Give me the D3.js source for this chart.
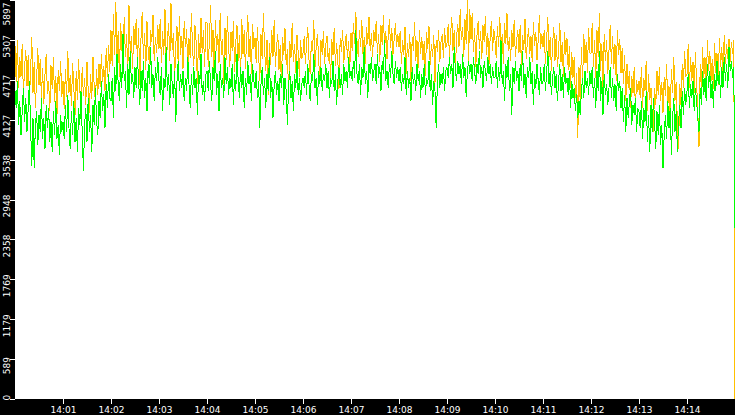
<!DOCTYPE html>
<html>
<head>
<meta charset="utf-8">
<script src="https://cdn.jsdelivr.net/npm/d3@7"></script>
<style>
  html, body { margin: 0; padding: 0; background: #000; }
  svg { display: block; }
  .axis text { fill: #fff; font-family: "DejaVu Sans", sans-serif; font-size: 9px; }
  .axis line { stroke: #fff; }
  .axis path { display: none; }
</style>
</head>
<body>
<script>
"use strict";

// sampling: one value every 1.5 seconds from 14:00:00, last sample at 14:15:00
const startTime = new Date(2020, 0, 1, 14, 0, 0);
const endTime = new Date(2020, 0, 1, 14, 15, 0);
const sampleSeconds = 1.5;

const yMax = 5897;
const yTicks = [0, 589, 1179, 1769, 2358, 2948, 3538, 4127, 4717, 5307, 5897];
const xTickLabels = ['14:01', '14:02', '14:03', '14:04', '14:05', '14:06', '14:07',
  '14:08', '14:09', '14:10', '14:11', '14:12', '14:13', '14:14'];

// yellow series, two rows per minute
const yellowValues = [
  5220, 4680, 5310, 4590, 5050, 4760, 5240, 4480, 4910, 5160, 4620, 5080, 4420, 4850, 5350, 4530, 4980, 4300, 4720, 5180,
  4640, 5020, 4450, 4890, 4360, 4800, 5100, 4510, 4700, 4250, 4930, 4580, 5060, 4390, 4770, 4200, 4860, 4550, 4990, 4470,
  4700, 4280, 4880, 4460, 5150, 4530, 4790, 4330, 4960, 4610, 4180, 4840, 4420, 5020, 4570, 4290, 4900, 4480, 4750, 4350,
  4980, 4560, 4230, 4810, 4440, 5060, 4620, 4380, 4870, 4500, 4950, 4610, 5100, 4680, 4920, 4550, 5180, 4760, 5230, 4840,
  5450, 4920, 5690, 5080, 5870, 5010, 5440, 4760, 5560, 5190, 4930, 5640, 5060, 5390, 4810, 5820, 5140, 5360, 4880, 5510,
  5230, 5620, 4970, 5480, 4640, 5330, 5720, 5020, 5410, 4870, 5580, 5140, 4950, 5460, 5270, 5680, 4990, 5350, 5110, 5530,
  5180, 5610, 4960, 5440, 5090, 5760, 4840, 5310, 5560, 4990, 5850, 5160, 5410, 4710, 5240, 5510, 4940, 5660, 5090, 5370,
  4880, 5590, 5200, 5470, 4790, 5330, 5040, 5700, 5150, 4920, 5520, 5260, 4650, 5400, 5010, 5630, 5120, 5450, 4900, 5560,
  5560, 4910, 5290, 5820, 5060, 5460, 4760, 5600, 5140, 5390, 4960, 5710, 5090, 5320, 4660, 5490, 5010, 5660, 5200, 4900,
  5430, 5150, 5580, 4830, 5270, 5520, 4990, 5380, 4720, 5620, 5100, 5450, 4880, 5300, 5680, 5050, 5370, 4800, 5540, 5180,
  5340, 4960, 5500, 5110, 4700, 5390, 5020, 5700, 5160, 4850, 5310, 4500, 5260, 4940, 5450, 5060, 5600, 4910, 5210, 5400,
  4870, 5230, 4640, 5350, 5080, 5480, 4930, 5170, 4450, 5290, 5040, 5550, 4980, 5250, 4820, 5380, 5120, 4760, 5300, 5020,
  5110, 5360, 4950, 5260, 5500, 5010, 4800, 5290, 5150, 5600, 4900, 5210, 5400, 5050, 4660, 5300, 5090, 5440, 4950, 5240,
  5370, 4990, 5180, 4730, 5320, 5080, 5480, 4920, 5260, 5020, 4580, 5340, 5130, 5460, 4970, 5220, 5390, 5040, 5290, 4880,
  5410, 5140, 5560, 5250, 5720, 5300, 5060, 5450, 5200, 5600, 5100, 5350, 4950, 5500, 5240, 5650, 5150, 5410, 5060, 5460,
  5290, 5580, 5120, 5390, 4980, 5520, 5230, 5670, 5170, 5440, 5020, 5360, 5610, 5190, 5480, 5090, 5330, 5550, 5210, 5400,
  5200, 5440, 4950, 5310, 5090, 5500, 4800, 5260, 5050, 5400, 4700, 5350, 5150, 5570, 5000, 5300, 4890, 5450, 5100, 5350,
  5010, 5290, 4780, 5420, 5180, 5510, 4930, 5240, 5060, 5380, 4670, 5310, 5130, 5460, 4980, 5270, 5390, 5040, 5480, 5190,
  5260, 5540, 5060, 5390, 5650, 5150, 5450, 4850, 5360, 5540, 5210, 5760, 5300, 5500, 5050, 5610, 5250, 5890, 5000, 5760,
  5320, 5700, 5130, 5480, 4900, 5380, 5590, 5180, 5440, 5020, 5520, 5270, 5660, 5090, 5410, 4950, 5350, 5580, 5140, 5470,
  5300, 5040, 5510, 5200, 5650, 5090, 5400, 4950, 5550, 5250, 5700, 5150, 5350, 5000, 5450, 5200, 5600, 5050, 5300, 5450,
  5120, 5530, 4920, 5380, 5160, 5620, 5030, 5290, 5480, 5100, 5360, 4980, 5570, 5220, 5430, 5010, 5310, 5680, 5170, 5400,
  5200, 5450, 4950, 5300, 5650, 5050, 5350, 4850, 5250, 5500, 5000, 5380, 4900, 5150, 5560, 4980, 5270, 4760, 5420, 5090,
  5330, 4870, 5210, 4600, 5130, 4750, 5050, 4450, 4820, 3860, 4900, 4380, 5200, 4700, 5400, 4960, 5280, 4820, 5480, 5120,
  5100, 5550, 4900, 5300, 4750, 5450, 5050, 5700, 4850, 5250, 4600, 5400, 5000, 5300, 4800, 5150, 5520, 4950, 5370, 4880,
  5240, 4700, 5460, 5080, 5320, 4820, 5190, 4650, 5080, 4400, 4950, 4600, 4850, 4300, 4780, 4520, 4910, 4270, 4720, 4540,
  4700, 4450, 4900, 4300, 4750, 4550, 5000, 4250, 4800, 4420, 4600, 4150, 3950, 4600, 4350, 4850, 4500, 4900, 4400, 4680,
  4230, 4760, 4480, 4950, 4320, 4620, 4180, 4870, 4530, 5050, 4410, 4690, 4060, 3700, 4650, 4340, 4950, 4600, 5150, 4780,
  4800, 5250, 4600, 5050, 4700, 4980, 4520, 5130, 4660, 4250, 3720, 4950, 4550, 5200, 4750, 5050, 4500, 5300, 4850, 5150,
  4700, 5020, 4580, 5260, 4820, 5110, 4640, 5340, 4900, 5200, 4760, 5380, 4950, 5250, 5020, 5320, 4980, 5280, 5100, 5300,
  0
];

// green series, two rows per minute
const greenValues = [
  4550, 4300, 4700, 4050, 4400, 3900, 4250, 4600, 4100, 4450, 3950, 4300, 4700, 4000, 3450, 4150, 3420, 4050, 4250, 3750,
  4200, 3950, 4450, 3850, 4150, 3700, 4350, 4000, 4300, 3800, 4100, 3650, 4250, 3900, 4400, 3850, 4050, 3600, 4200, 3950,
  4100, 3850, 4350, 3950, 4500, 4000, 3700, 4250, 3900, 4400, 3800, 4150, 3650, 4300, 4050, 4550, 3950, 3370, 4050, 4300,
  3800, 4450, 3950, 4200, 3650, 4350, 4050, 4600, 4100, 3900, 4400, 4150, 4700, 4250, 4500, 4000, 4650, 4300, 4800, 4450,
  4400, 4750, 4150, 4900, 4550, 5100, 4650, 4400, 4950, 4600, 5400, 4700, 4850, 4300, 4950, 4500, 5150, 4650, 4800, 4450,
  4900, 4600, 5050, 4700, 4350, 4850, 4550, 5000, 4450, 4750, 4250, 4950, 4650, 5200, 4600, 4800, 4400, 4900, 4700, 5050,
  4700, 4500, 4900, 4250, 4750, 4600, 5200, 4550, 4800, 4350, 4950, 4650, 4450, 4850, 4100, 4700, 5000, 4550, 4800, 4600,
  4850, 4400, 4750, 4550, 5050, 4650, 4300, 4800, 4500, 4900, 4600, 4750, 4200, 4850, 4650, 5100, 4500, 4700, 4400, 4800,
  4850, 4550, 5000, 4650, 4400, 4900, 4700, 5150, 4500, 4800, 4250, 4950, 4600, 4750, 4450, 5050, 4650, 4900, 4500, 4750,
  4600, 4950, 4350, 4800, 4550, 5100, 4700, 4450, 4900, 4600, 4850, 4300, 4750, 4500, 5000, 4650, 4800, 4400, 4950, 4700,
  4600, 4850, 4450, 4700, 4000, 4650, 4900, 4500, 4750, 4300, 4800, 4550, 5050, 4450, 4700, 4150, 4650, 4850, 4500, 4700,
  4400, 4800, 4600, 4950, 4350, 4750, 4550, 4050, 4650, 4850, 4450, 4700, 4250, 4800, 4600, 5000, 4500, 4750, 4400, 4650,
  4750, 4600, 4850, 4500, 4950, 4650, 4400, 4800, 4700, 5100, 4600, 4750, 4350, 4850, 4650, 4900, 4550, 4800, 4700, 4950,
  4600, 4850, 4450, 4750, 4650, 5000, 4550, 4800, 4350, 4700, 4900, 4600, 4800, 4500, 4950, 4700, 4850, 4600, 5050, 4750,
  4850, 4700, 5000, 4750, 5450, 4800, 4650, 4950, 4500, 4900, 4750, 5200, 4650, 4850, 4450, 4950, 4800, 5050, 4700, 4850,
  4950, 4650, 5100, 4750, 4900, 4550, 5000, 4800, 5300, 4700, 4850, 4600, 4950, 4750, 5150, 4800, 4650, 5000, 4750, 4900,
  4700, 4900, 4550, 4800, 4650, 5050, 4500, 4850, 4600, 4750, 4400, 4900, 4650, 4800, 4550, 4950, 4700, 4850, 4450, 4800,
  4600, 4950, 4500, 4750, 4650, 5000, 4550, 4800, 4350, 4700, 4550, 4000, 4700, 4950, 4600, 4800, 4650, 4900, 4550, 4850,
  4900, 4750, 5050, 4800, 4950, 4600, 5200, 4850, 4700, 5000, 4800, 4950, 4650, 5100, 4750, 4900, 4460, 4850, 5000, 4800,
  4950, 4700, 5050, 4850, 4650, 4950, 4800, 5150, 4750, 4900, 4600, 5000, 4850, 4700, 5050, 4800, 4950, 4650, 4900, 4750,
  4750, 5000, 4600, 4900, 4700, 5300, 4650, 4850, 4400, 4950, 4750, 5050, 4550, 4800, 4200, 4900, 4650, 5000, 4700, 4850,
  4550, 4950, 4700, 5150, 4600, 4800, 4450, 4900, 4750, 5050, 4650, 4850, 4350, 4800, 4600, 4950, 4700, 4500, 4900, 4650,
  4700, 4950, 4550, 4800, 5150, 4650, 4850, 4500, 4750, 4900, 4600, 4800, 4400, 4700, 4950, 4550, 4800, 4450, 4900, 4650,
  4750, 4500, 4850, 4300, 4700, 4450, 4600, 4250, 4500, 4150, 4400, 4200, 4550, 4750, 4450, 4850, 4600, 4750, 4500, 4850,
  4650, 4900, 4450, 4750, 4300, 4850, 4550, 5150, 4400, 4700, 4200, 4800, 4500, 4650, 4350, 4600, 4900, 4450, 4750, 4400,
  4650, 4250, 4800, 4550, 4700, 4300, 4600, 4100, 4500, 3950, 4450, 4150, 4400, 4600, 4050, 4350, 4200, 4450, 3950, 4300,
  4250, 4000, 4400, 3850, 4300, 4100, 4550, 3800, 4200, 3650, 4350, 3950, 4450, 4100, 3700, 4250, 3900, 4350, 3750, 4050,
  3410, 3900, 4200, 3850, 4400, 4000, 4300, 3600, 4150, 4450, 3950, 4250, 3650, 4100, 4350, 4000, 4550, 4200, 4600, 4350,
  4550, 4800, 4300, 4650, 4450, 4700, 4250, 4600, 4400, 4150, 3950, 4600, 4350, 4850, 4500, 4750, 4400, 4950, 4600, 4850,
  4450, 4700, 4300, 4800, 4550, 5000, 4650, 4850, 4450, 4900, 4600, 5050, 4700, 4950, 4600, 5200, 4850, 5000, 4750, 4900,
  2530
];

const series = [
  { name: 'yellow', color: '#ffc000', values: yellowValues },
  { name: 'green', color: '#00ff00', values: greenValues }
];

const width = 735;
const height = 415;
const plot = { left: 15, top: 0, right: 735, bottom: 399 };

const svg = d3.select('body').append('svg')
  .attr('width', width)
  .attr('height', height);

svg.append('rect')
  .attr('width', width).attr('height', height)
  .attr('fill', '#000');

svg.append('rect')
  .attr('x', plot.left).attr('y', plot.top)
  .attr('width', plot.right - plot.left).attr('height', plot.bottom - plot.top)
  .attr('fill', '#fff');

const x = d3.scaleTime().domain([startTime, endTime]).range([plot.left, plot.right]);
const y = d3.scaleLinear().domain([0, yMax]).range([plot.bottom, plot.top]);

const timeAt = (i) => new Date(startTime.getTime() + i * sampleSeconds * 1000);

svg.append('clipPath').attr('id', 'clip')
  .append('rect')
  .attr('x', plot.left).attr('y', plot.top)
  .attr('width', plot.right - plot.left).attr('height', plot.bottom - plot.top + 1);

const line = d3.line()
  .x((d, i) => x(timeAt(i)))
  .y((d) => y(d));

const lines = svg.append('g').attr('clip-path', 'url(#clip)');

series.map((s) => {
  lines.append('path')
    .datum(s.values)
    .attr('d', line)
    .attr('fill', 'none')
    .attr('stroke', s.color)
    .attr('stroke-width', 1)
    .attr('shape-rendering', 'crispEdges');
});

// x axis
const xTickValues = xTickLabels.map((label) => {
  const [h, m] = label.split(':').map(Number);
  return new Date(2020, 0, 1, h, m, 0);
});

svg.append('g')
  .attr('class', 'axis')
  .attr('transform', `translate(0,${plot.bottom})`)
  .call(d3.axisBottom(x).tickValues(xTickValues).tickSize(5).tickPadding(3)
    .tickFormat((d, i) => xTickLabels[i]))
  .selectAll('line').attr('shape-rendering', 'crispEdges');

// y axis, labels rotated and kept inside the band
const yAxis = svg.append('g')
  .attr('class', 'axis')
  .attr('transform', `translate(${plot.left},0)`)
  .call(d3.axisLeft(y).tickValues(yTicks).tickSize(5).tickFormat(d3.format('d')));

yAxis.selectAll('line').attr('shape-rendering', 'crispEdges');

yAxis.selectAll('.tick').each(function (d) {
  const tick = d3.select(this);
  const ty = y(d);
  const text = tick.select('text');
  const len = text.node().getComputedTextLength();
  let center = ty + 6;
  if (center - len / 2 < 2) center = 2 + len / 2;
  if (center + len / 2 > 400) center = 400 - len / 2;
  text
    .attr('x', null).attr('dy', null)
    .attr('text-anchor', 'middle')
    .attr('transform', `translate(${-5},${center - ty}) rotate(-90)`);
});
</script>
</body>
</html>
